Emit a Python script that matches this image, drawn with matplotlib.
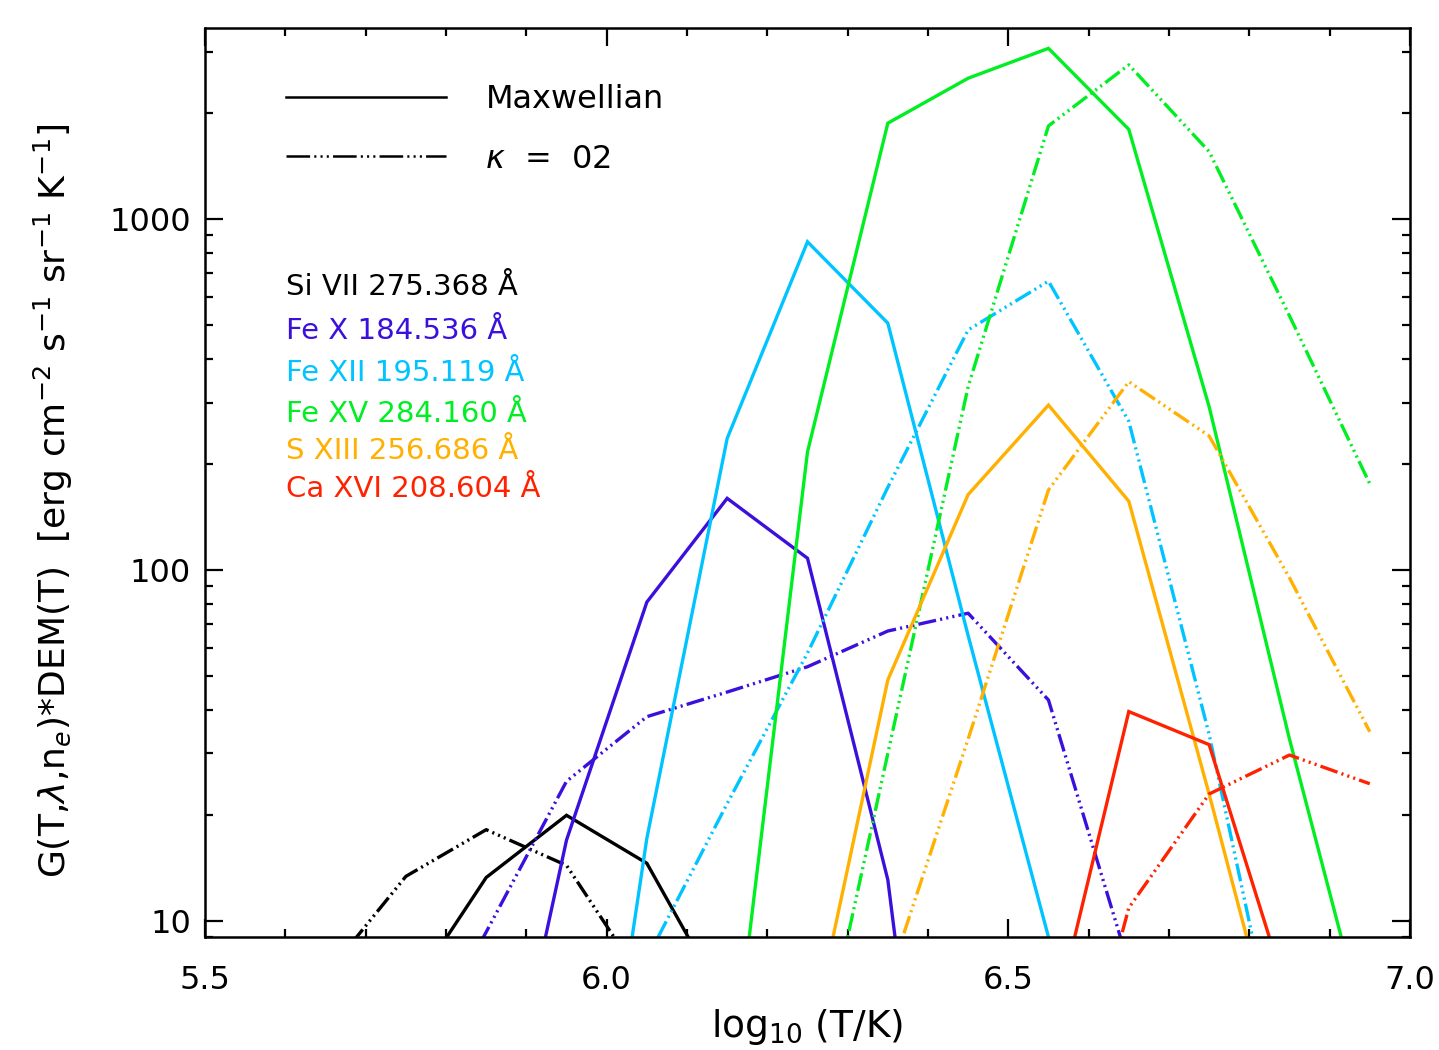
import numpy as np
import matplotlib
matplotlib.use("Agg")
import matplotlib.pyplot as plt
from matplotlib.lines import Line2D

plt.rcParams['font.family'] = ['DejaVu Sans']
plt.rcParams['mathtext.fontset'] = 'dejavusans'
plt.rcParams['lines.scale_dashes'] = False

nan = np.nan

# log10(T) grid of the contribution functions
logt = [5.65, 5.75, 5.85, 5.95, 6.05, 6.15, 6.25, 6.35, 6.45, 6.55, 6.65, 6.75, 6.85, 6.95]

# G(T) * DEM(T), Maxwellian
si7_max  = [nan, 6.0, 13.3, 20.0, 14.6, 5.7, nan, nan, nan, nan, nan, nan, nan, nan]
fe10_max = [nan, nan, 1.5, 17.0, 81.0, 160.0, 108.0, 13.1, 0.2, nan, nan, nan, nan, nan]
fe12_max = [nan, nan, nan, 0.5, 17.2, 237.0, 861.0, 505.0, 65.0, 9.0, 1.0, nan, nan, nan]
fe15_max = [nan, nan, nan, nan, nan, 2.7, 217.0, 1875.0, 2518.0, 3063.0, 1800.0, 292.0, 33.0, 4.4]
s13_max  = [nan, nan, nan, nan, nan, nan, 4.1, 48.6, 164.0, 295.0, 157.0, 23.0, 3.1, nan]
ca16_max = [nan, nan, nan, nan, nan, nan, nan, nan, nan, 4.4, 39.5, 31.8, 5.9, 1.0]

# G(T) * DEM(T), kappa = 2
si7_k2  = [7.0, 13.4, 18.2, 14.4, 6.5, nan, nan, nan, nan, nan, nan, nan, nan, nan]
fe10_k2 = [nan, 3.5, 9.3, 25.0, 38.2, 44.9, 53.0, 67.0, 75.3, 42.6, 7.5, nan, nan, nan]
fe12_k2 = [nan, nan, nan, 2.0, 7.8, 21.6, 58.0, 172.0, 483.0, 665.0, 265.0, 34.0, 2.9, nan]
fe15_k2 = [nan, nan, nan, nan, nan, nan, 2.7, 30.0, 333.0, 1842.0, 2749.0, 1556.0, 530.0, 176.0]
s13_k2  = [nan, nan, nan, nan, nan, nan, 1.0, 6.7, 33.0, 169.0, 344.0, 241.0, 95.0, 34.6]
ca16_k2 = [nan, nan, nan, nan, nan, nan, nan, nan, nan, 1.5, 10.9, 23.0, 29.7, 24.6]

labels = ['Si VII 275.368 Å', 'Fe X 184.536 Å', 'Fe XII 195.119 Å',
          'Fe XV 284.160 Å', 'S XIII 256.686 Å', 'Ca XVI 208.604 Å']
colors = ['#000000', '#3c10dc', '#00c4ff', '#00ee22', '#ffb000', '#ff2200']
maxw = [si7_max, fe10_max, fe12_max, fe15_max, s13_max, ca16_max]
kap2 = [si7_k2, fe10_k2, fe12_k2, fe15_k2, s13_k2, ca16_k2]

dash3dot = (0, (13, 3, 1.5, 3, 1.5, 3, 1.5, 3))

fig = plt.figure(figsize=(14.39, 10.5), dpi=100)
ax = fig.add_axes([0.1425, 0.1076, 0.8373, 0.8657])

for c, m, k in zip(colors, maxw, kap2):
    ax.plot(logt, m, color=c, lw=2.4, solid_joinstyle='miter')
    ax.plot(logt, k, color=c, lw=2.4, linestyle=dash3dot, dash_capstyle='butt')

ax.set_yscale('log')
ax.set_xlim(5.5, 7.0)
ax.set_ylim(9.0, 3500)

ax.set_xticks([5.5, 6.0, 6.5, 7.0])
ax.set_xticklabels(['5.5', '6.0', '6.5', '7.0'])
ax.set_xticks(np.arange(5.6, 7.0, 0.1), minor=True)
ax.set_yticks([10, 100, 1000])
ax.set_yticklabels(['10', '100', '1000'])
ax.tick_params(which='both', direction='in', top=True, right=True, width=1.6,
               labelsize=23)
ax.tick_params(which='major', length=13)
ax.tick_params(which='minor', length=6)
ax.tick_params(axis='x', which='major', pad=20)
ax.tick_params(axis='y', which='major', pad=10)
for sp in ax.spines.values():
    sp.set_linewidth(1.8)

ax.set_xlabel(r'log$_{10}$ (T/K)', fontsize=27, labelpad=8)
ax.set_ylabel(r'G(T,$\lambda$,n$_e$)*DEM(T)  [erg cm$^{-2}$ s$^{-1}$ sr$^{-1}$ K$^{-1}$]',
              fontsize=26)
ax.yaxis.set_label_coords(-0.108, 0.48)

handles = [Line2D([], [], color='black', lw=1.8),
           Line2D([], [], color='black', lw=1.8,
                  linestyle=(0, (17, 3, 1.5, 3, 1.5, 3, 1.5, 3)))]
ax.legend(handles, ['Maxwellian', r'$\kappa$  =  02'], loc='upper left',
          bbox_to_anchor=(0.067, 0.938), frameon=False, fontsize=23,
          handlelength=5.0, handletextpad=1.25, labelspacing=0.88,
          borderpad=0, borderaxespad=0)

label_y = [0.715, 0.667, 0.620, 0.575, 0.535, 0.493]
for lab, c, yy in zip(labels, colors, label_y):
    ax.text(0.067, yy, lab, color=c, fontsize=21,
            transform=ax.transAxes, va='center', ha='left')

fig.savefig('out.png', dpi=100)
